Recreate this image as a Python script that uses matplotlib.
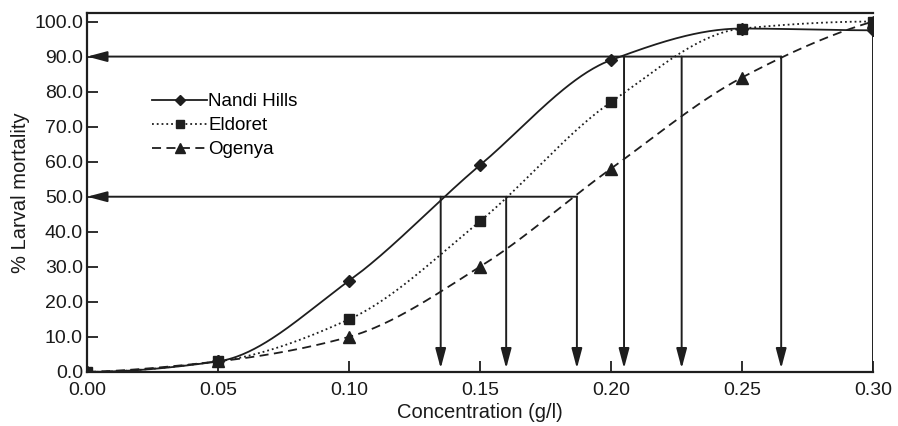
import numpy as np
import matplotlib
matplotlib.use("Agg")
import matplotlib.pyplot as plt

plt.rcParams['font.family'] = ['Liberation Sans', 'DejaVu Sans']

# concentrations (g/l) and % larval mortality
conc = [0.00, 0.05, 0.10, 0.15, 0.20, 0.25, 0.30]
nandi = [0.0, 3.0, 26.0, 59.0, 89.0, 98.0, 97.5]
eldoret = [0.0, 3.0, 15.0, 43.0, 77.0, 98.0, 100.0]
ogenya = [0.0, 3.0, 10.0, 30.0, 58.0, 84.0, 100.0]

# LC50 / LC90 read-offs (g/l)
lc50 = [0.135, 0.160, 0.187]
lc90 = [0.205, 0.227, 0.265]

yticks = [0, 10, 20, 30, 40, 50, 60, 70, 80, 90, 100]
xticks = [0.00, 0.05, 0.10, 0.15, 0.20, 0.25, 0.30]


def pchip(x, y, xs):
    # monotone cubic curve through the points, just for drawing a smooth line
    x = np.asarray(x, float)
    y = np.asarray(y, float)
    h = np.diff(x)
    d = np.diff(y) / h
    m = np.zeros_like(y)
    for k in range(1, len(x) - 1):
        if d[k - 1] * d[k] > 0:
            w1 = 2 * h[k] + h[k - 1]
            w2 = h[k] + 2 * h[k - 1]
            m[k] = (w1 + w2) / (w1 / d[k - 1] + w2 / d[k])
    m[0] = max(0.0, ((2 * h[0] + h[1]) * d[0] - h[0] * d[1]) / (h[0] + h[1]))
    m[-1] = max(0.0, ((2 * h[-1] + h[-2]) * d[-1] - h[-1] * d[-2]) / (h[-1] + h[-2]))
    idx = np.clip(np.searchsorted(x, xs) - 1, 0, len(x) - 2)
    t = (xs - x[idx]) / h[idx]
    h00 = 2 * t**3 - 3 * t**2 + 1
    h10 = t**3 - 2 * t**2 + t
    h01 = -2 * t**3 + 3 * t**2
    h11 = t**3 - t**2
    return h00 * y[idx] + h10 * h[idx] * m[idx] + h01 * y[idx + 1] + h11 * h[idx] * m[idx + 1]


col = '#1e1e1e'
fig = plt.figure(figsize=(8.98, 4.26), dpi=100)
ax = fig.add_axes([0.097, 0.127, 0.875, 0.843])

xs = np.linspace(0, 0.30, 400)
series = [
    ('Nandi Hills', nandi, '-', 'D', 6.5),
    ('Eldoret', eldoret, ':', 's', 6.5),
    ('Ogenya', ogenya, (0, (5, 3)), '^', 8),
]
for name, vals, ls, mk, ms in series:
    ax.plot(xs, pchip(conc, vals, xs), color=col, ls=ls, lw=1.3)
    ax.plot(conc, vals, ls='none', marker=mk, ms=ms, color=col)
    ax.plot([], [], color=col, ls=ls, lw=1.3, marker=mk, ms=ms * 0.85, label=name)

arrow = dict(arrowstyle='-|>,head_length=0.75,head_width=0.2', color=col,
             lw=1.4, mutation_scale=16, shrinkA=0, shrinkB=0)
for level, xs_lc in [(50, lc50), (90, lc90)]:
    ax.annotate('', xy=(0.0, level), xytext=(max(xs_lc), level), arrowprops=arrow)
    for xv in xs_lc:
        ax.annotate('', xy=(xv, 1.0), xytext=(xv, level), arrowprops=arrow)

# drop line at the last concentration
ax.plot([conc[-1], conc[-1]], [0, nandi[-1]], color=col, lw=1.4)

ax.set_xlim(0, 0.30)
ax.set_ylim(0, 102.5)
ax.set_xticks(xticks)
ax.set_xticklabels([f'{v:.2f}' for v in xticks])
ax.set_yticks(yticks)
ax.set_yticklabels([f'{v:.1f}' for v in yticks])
ax.tick_params(direction='in', length=8, width=1.3, labelsize=14, color=col,
               labelcolor='#1a1a1a', pad=3)
ax.tick_params(axis='x', pad=7)
ax.spines['right'].set_visible(False)
for s in ['left', 'bottom', 'top']:
    ax.spines[s].set_linewidth(1.6)
    ax.spines[s].set_color(col)

ax.set_xlabel('Concentration (g/l)', fontsize=14.5, color='#1a1a1a', labelpad=3)
ax.set_ylabel('% Larval mortality', fontsize=14.5, color='#1a1a1a', labelpad=3)

ax.legend(loc='upper left', bbox_to_anchor=(0.083, 0.776), frameon=False,
          fontsize=13.5, handlelength=2.9, handletextpad=0.08, labelspacing=0.36,
          borderpad=0, borderaxespad=0)

fig.savefig('out.png', dpi=100)
